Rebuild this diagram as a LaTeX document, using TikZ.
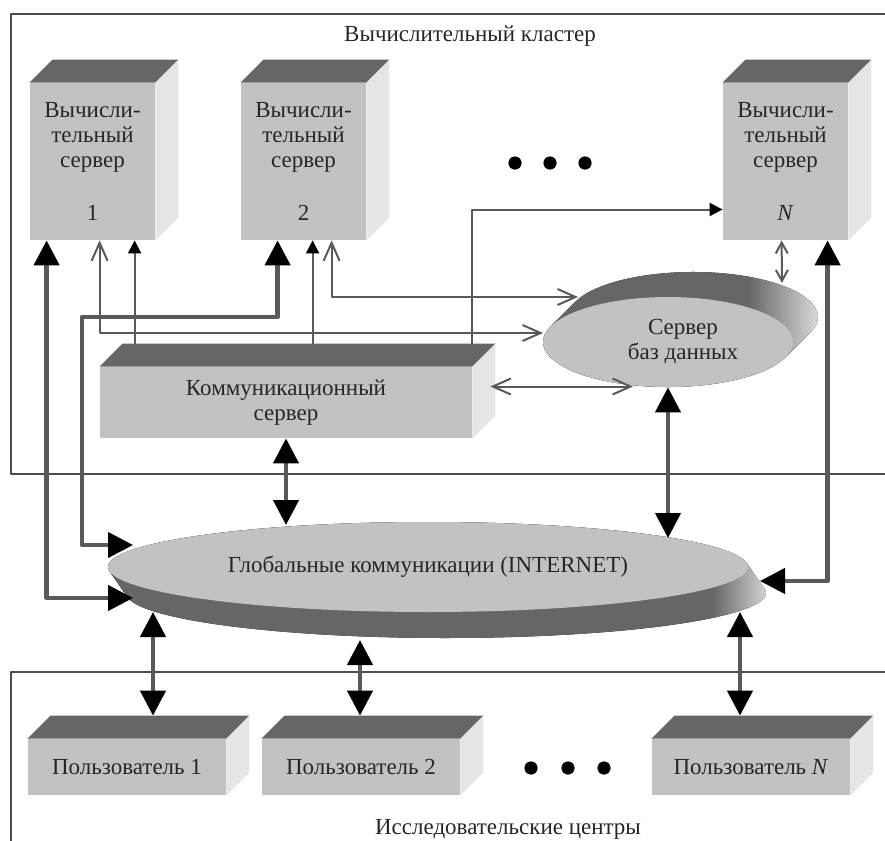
\documentclass[tikz,border=0pt]{standalone}
\usepackage{fontspec}
\setmainfont{Liberation Serif}
\usetikzlibrary{arrows.meta,calc,shapes.geometric}
\definecolor{frontgray}{gray}{0.76}
\definecolor{topgray}{gray}{0.4}
\definecolor{sidegray}{gray}{0.9}
\definecolor{linegray}{gray}{0.35}
\definecolor{framegray}{gray}{0.3}
\definecolor{endgray}{gray}{0.95}
\pgfdeclarehorizontalshading{dbside}{100bp}{color(0bp)=(topgray); color(61bp)=(topgray); color(75bp)=(endgray); color(100bp)=(endgray)}
\pgfdeclarehorizontalshading{netside}{100bp}{color(0bp)=(topgray); color(70bp)=(topgray); color(75bp)=(endgray); color(100bp)=(endgray)}
\newcommand{\lbl}{\fontsize{11.5}{12.5}\selectfont}
\def\dep{11.5pt}
\tikzset{
  blk/.style={fill=frontgray, inner sep=2pt, align=center, font=\lbl, text=black!85},
  fat/.style={draw=linegray, line width=2.2pt, {Triangle[length=12.5pt,width=12.5pt,color=black]}-{Triangle[length=12.5pt,width=12.5pt,color=black]}},
  wire/.style={draw=linegray, line width=1pt},
  barbs/.style={wire, {Straight Barb[length=9pt,width=8pt]}-{Straight Barb[length=9pt,width=8pt]}},
  minibarbs/.style={wire, {Straight Barb[length=5.5pt,width=6pt]}-{Straight Barb[length=5.5pt,width=6pt]}},
  feed/.style={wire, -{Triangle[length=6.5pt,width=6.5pt,color=black]}},
  frame/.style={draw=framegray, line width=1pt},
}
% 3D block: name, centre, width, height, text
\newcommand{\blok}[5]{%
  \node[blk, minimum width=#3, minimum height=#4] (#1) at (#2) {#5};
  \fill[topgray] (#1.north west) -- ++(\dep,\dep) -- ($(#1.north east)+(\dep,\dep)$) -- (#1.north east) -- cycle;
  \fill[sidegray] (#1.north east) -- ++(\dep,\dep) -- ($(#1.south east)+(\dep,\dep)$) -- (#1.south east) -- cycle;
  \coordinate (#1-top) at ($(#1.north)+(\dep,\dep)$);
}
\begin{document}
\begin{tikzpicture}[x=0.5pt, y=-0.5pt, font=\lbl, line join=round]
    \useasboundingbox (0,0) rectangle (885,841);
    \draw[frame] (885,14) -- (11,14) -- (11,474) -- (885,474);
    \draw[frame] (885,672) -- (11,672) -- (11,841);
    \node[text=black!85] (cluster) at (470,36) {Вычислительный кластер};
    \node[text=black!85] (centres) at (508,829) {Исследовательские центры};
    \blok{s1}{92.5,161.5}{62.5pt}{78.5pt}{Вычисли-\\тельный\\сервер\\[14pt]1}
    \blok{s2}{303.5,161.5}{62.5pt}{78.5pt}{Вычисли-\\тельный\\сервер\\[14pt]2}
    \blok{sN}{785.5,161.5}{62.5pt}{78.5pt}{Вычисли-\\тельный\\сервер\\[14pt]\textit{N}}
    \blok{comm}{286,402.5}{186pt}{35.5pt}{Коммуникационный\\сервер}
    \blok{u1}{127,767}{99pt}{28pt}{Пользователь 1}
    \blok{u2}{361,767}{99pt}{28pt}{Пользователь 2}
    \blok{uN}{751,767}{99pt}{28pt}{Пользователь \textit{N}}
    \foreach \x in {515,550,585} \fill (\x,163) circle (3.3pt);
    \foreach \x in {531,568,604} \fill (\x,768) circle (3.3pt);
    % database disk
    \coordinate (dbc) at (668,342);
    \fill[shading=dbside] ($(dbc)+(160.2:62.5pt and 22.5pt)$) -- ++(12.5pt,12.5pt)
        arc[start angle=160.2, end angle=-19.8, x radius=62.5pt, y radius=22.5pt] -- ++(-12.5pt,-12.5pt)
        arc[start angle=-19.8, end angle=-199.8, x radius=62.5pt, y radius=22.5pt] -- cycle;
    \node[ellipse, fill=frontgray, minimum width=125pt, minimum height=45pt, inner sep=0pt,
        label={[text=black!85, align=center, xshift=7.5pt]center:{Сервер\\баз данных}}] (db) at (dbc) {};
    % internet disk
    \coordinate (netc) at (428,567);
    \fill[shading=netside] ($(netc)+(185.56:160pt and 22.5pt)$) -- ++(9pt,-13pt)
        arc[start angle=185.56, end angle=365.56, x radius=160pt, y radius=22.5pt] -- ++(-9pt,13pt)
        arc[start angle=5.56, end angle=185.56, x radius=160pt, y radius=22.5pt] -- cycle;
    \node[ellipse, fill=frontgray, minimum width=320pt, minimum height=45pt, inner sep=0pt, text=black!85] (inet) at (netc) {Глобальные коммуникации (INTERNET)};
    \coordinate (inetA) at (133,598);
    \coordinate (inetB) at (133,545);
    \coordinate (inetJ) at (760,581);
    \coordinate (inetK) at (668,538);
    \coordinate (inetL) at (286,525);
    \coordinate (inetM1) at (153,612);
    \coordinate (inetM2) at (360,640);
    \coordinate (inetMN) at (740,612);
    \coordinate (dbC) at (543,333);
    \coordinate (dbF) at (578,297);
    \coordinate (dbH) at (633,386.5);
    \coordinate (dbI) at (782,283);
    \coordinate (s1a) at ([xshift=8.5pt]s1.south west);
    \coordinate (s1c) at ([xshift=35pt]s1.south west);
    \coordinate (s1d) at ([xshift=52.5pt]s1.south west);
    \coordinate (s2b) at ([xshift=18.5pt]s2.south west);
    \coordinate (s2e) at ([xshift=36pt]s2.south west);
    \coordinate (s2f) at ([xshift=45.5pt]s2.south west);
    \coordinate (sNi) at ([xshift=29.5pt]sN.south west);
    \coordinate (sNj) at ([xshift=52.5pt]sN.south west);
    \draw[fat] (s1a) |- (inetA);
    \draw[fat] (s2b) |- (82,317) |- (inetB);
    \draw[barbs] (s1c) |- (dbC);
    \draw[feed] (comm-top -| s1d) -- (s1d);
    \draw[feed] (comm-top -| s2e) -- (s2e);
    \draw[barbs] (s2f) |- (dbF);
    \draw[feed] (comm-top -| comm.north east) |- ([yshift=-24pt]sN.west);
    \draw[barbs] ([shift={(9pt,8pt)}]comm.east) -- (dbH);
    \draw[minibarbs] (sNi) -- (dbI);
    \draw[fat] (sNj) |- (inetJ);
    \draw[fat] (db.south) -- (inetK);
    \draw[fat] (comm.south) -- (inetL);
    \draw[fat] (inetM1) -- (u1-top -| inetM1);
    \draw[fat] (inetM2) -- (u2-top -| inetM2);
    \draw[fat] (inetMN) -- (uN-top -| inetMN);
\end{tikzpicture}
\end{document}
